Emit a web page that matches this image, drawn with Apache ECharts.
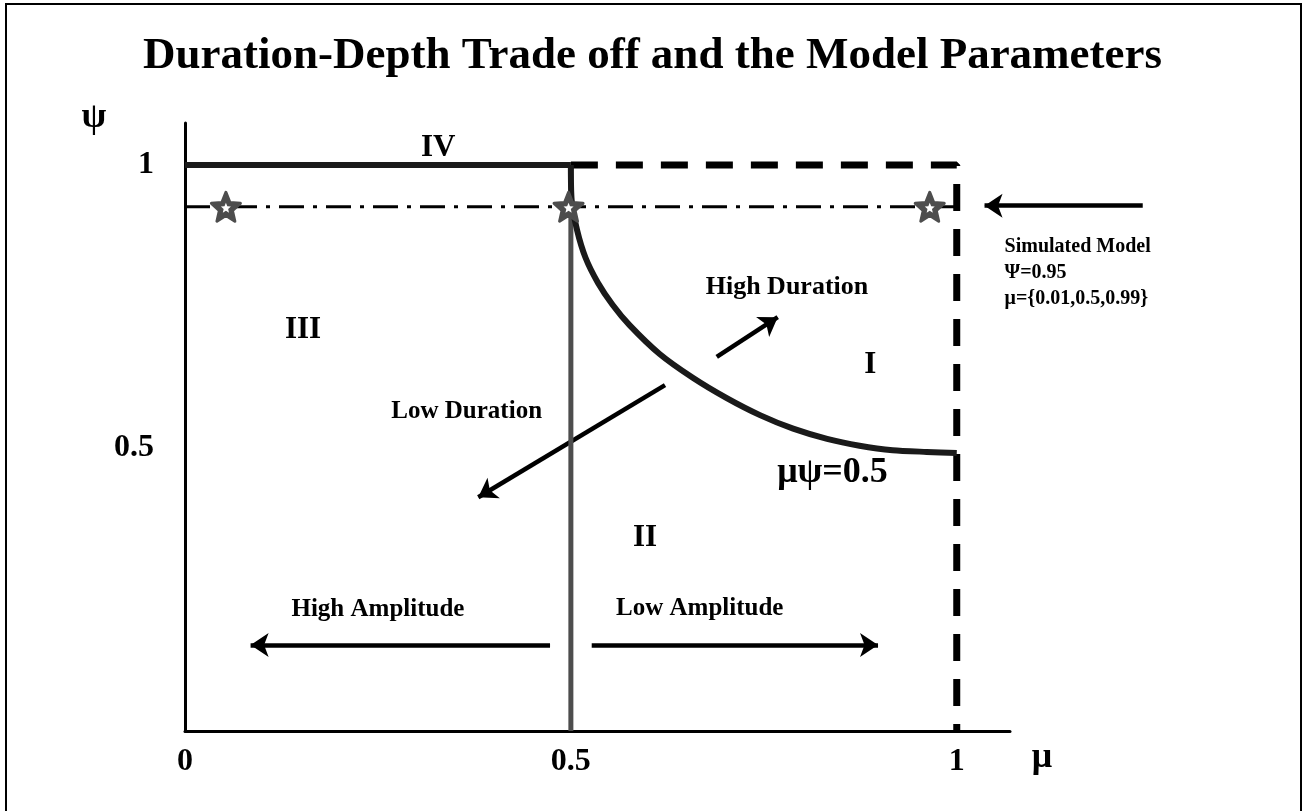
<!DOCTYPE html>
<html>
<head>
<meta charset="utf-8">
<title>Duration-Depth Trade off</title>
<script src="https://cdn.jsdelivr.net/npm/echarts@6/dist/echarts.min.js"></script>
<style>
  html, body { margin: 0; padding: 0; background: #fff; }
  #chart { width: 1305px; height: 811px; }
</style>
</head>
<body>
<div id="chart"></div>
<script>
// axis ticks
var tickValues = [0, 0.5, 1];

// region boundaries (mu, psi)
var solidTop = [[0, 1], [0.5, 1]];
var dashedFrame = [[0.5, 1], [1, 1], [1, 0]];
var midLine = [[0.5, 1], [0.5, 0]];
var simLine = [[0, 0.926], [1, 0.926]];

// mu*psi = 0.5 boundary
var curveMu = [0.5, 0.501, 0.508, 0.519, 0.535, 0.554, 0.576, 0.615, 0.658, 0.702, 0.745, 0.788, 0.832, 0.874, 0.917, 0.961, 1.0];
var curvePsi = [1.0, 0.938, 0.885, 0.836, 0.792, 0.753, 0.717, 0.666, 0.624, 0.588, 0.558, 0.534, 0.516, 0.504, 0.496, 0.493, 0.491];

// simulated points (stars)
var starMu = [0.053, 0.497, 0.965];
var starPsi = [0.926, 0.926, 0.926];

// arrows [from, to]
var arrows = [
  [[0.473, 0.152], [0.085, 0.152]],
  [[0.527, 0.152], [0.898, 0.152]],
  [[0.622, 0.611], [0.380, 0.413]],
  [[0.689, 0.661], [0.768, 0.731]],
  [[1.241, 0.928], [1.036, 0.928]]
];

// annotations
var noteText = ["IV", "III", "II", "I", "High Duration", "Low Duration", "\u03bc\u03c8=0.5", "High Amplitude", "Low Amplitude"];
var noteMu = [0.328, 0.153, 0.596, 0.888, 0.780, 0.365, 0.839, 0.250, 0.667];
var notePsi = [1.03, 0.708, 0.341, 0.646, 0.783, 0.564, 0.456, 0.214, 0.217];
var noteSize = [31, 31, 31, 31, 26, 25, 36, 25, 25];

var simText = "Simulated Model\n\u03a8=0.95\n\u03bc={0.01,0.5,0.99}";

var serif = "'Liberation Serif', 'Times New Roman', serif";

var curve = curveMu.map(function(m, i) { return [m, curvePsi[i]]; });
var stars = starMu.map(function(m, i) { return [m, starPsi[i]]; });
var notes = noteText.map(function(t, i) {
  return {
    value: [noteMu[i], notePsi[i]],
    name: t,
    label: { fontSize: noteSize[i] }
  };
});
notes.push({
  value: [1.062, 0.809],
  name: simText,
  label: { fontSize: 20, position: "right", distance: 0, align: "left", lineHeight: 26 }
});

var starPath = "path://M0,-100 L26.5,-36.4 L95.1,-30.9 L42.8,13.9 L58.8,80.9 L0,45 L-58.8,80.9 L-42.8,13.9 L-95.1,-30.9 L-26.5,-36.4 Z";

var chart = echarts.init(document.getElementById("chart"));
chart.setOption({
  animation: false,
  backgroundColor: "#fff",
  title: {
    text: "Duration-Depth Trade off and the Model Parameters",
    left: "center",
    top: 29,
    textStyle: { fontFamily: serif, fontWeight: "bold", fontSize: 45, color: "#000" }
  },
  grid: { left: 185, right: 295, top: 123, bottom: 80 },
  xAxis: {
    type: "value",
    min: 0,
    max: 1.069,
    interval: 0.5,
    splitLine: { show: false },
    axisTick: { show: false },
    axisLine: { lineStyle: { color: "#000", width: 3 } },
    axisLabel: {
      showMaxLabel: false,
      margin: 15,
      fontFamily: serif,
      fontWeight: "bold",
      fontSize: 32,
      color: "#000",
      formatter: function(v) { return tickValues.indexOf(v) >= 0 ? String(v) : ""; }
    }
  },
  yAxis: {
    type: "value",
    min: 0,
    max: 1.074,
    interval: 0.5,
    splitLine: { show: false },
    axisTick: { show: false },
    axisLine: { lineStyle: { color: "#000", width: 3 } },
    axisLabel: {
      showMinLabel: false,
      showMaxLabel: false,
      margin: 31,
      fontFamily: serif,
      fontWeight: "bold",
      fontSize: 32,
      color: "#000",
      formatter: function(v) { return tickValues.indexOf(v) >= 0 ? String(v) : ""; }
    }
  },
  graphic: [
    {
      type: "rect",
      shape: { x: 6, y: 4, width: 1295, height: 820 },
      style: { fill: "none", stroke: "#000", lineWidth: 2 }
    },
    {
      type: "text",
      x: 94, y: 118,
      style: { text: "\u03c8", font: "bold 36px " + serif, fill: "#000", align: "center", verticalAlign: "middle" }
    },
    {
      type: "text",
      x: 1042, y: 758,
      style: { text: "\u03bc", font: "bold 36px " + serif, fill: "#000", align: "center", verticalAlign: "middle" }
    }
  ],
  series: [
    {
      type: "line",
      data: midLine,
      showSymbol: false,
      lineStyle: { color: "#4d4d4d", width: 5 }
    },
    {
      type: "line",
      data: simLine,
      showSymbol: false,
      lineStyle: { color: "#000", width: 3, type: [25, 9, 4, 9] }
    },
    {
      type: "line",
      data: solidTop,
      showSymbol: false,
      lineStyle: { color: "#1a1a1a", width: 6 }
    },
    {
      type: "line",
      data: dashedFrame,
      showSymbol: false,
      lineStyle: { color: "#000", width: 7, type: [27, 18], cap: "butt" }
    },
    {
      type: "line",
      data: curve,
      smooth: 0.25,
      showSymbol: false,
      lineStyle: { color: "#1a1a1a", width: 6, join: "round" }
    },
    {
      type: "lines",
      coordinateSystem: "cartesian2d",
      clip: false,
      symbol: ["none", "arrow"],
      symbolSize: 18,
      lineStyle: { color: "#000", width: 4.5, opacity: 1 },
      data: arrows.map(function(a) { return { coords: a }; })
    },
    {
      type: "scatter",
      data: stars,
      symbol: starPath,
      symbolSize: 29,
      itemStyle: { color: "#4d4d4d", borderColor: "#4d4d4d", borderWidth: 3, borderJoin: "round", opacity: 1 },
      z: 5
    },
    {
      type: "scatter",
      data: stars,
      symbol: starPath,
      symbolSize: 10,
      symbolOffset: [0, 1],
      itemStyle: { color: "#fff", opacity: 1 },
      z: 6
    },
    {
      type: "scatter",
      data: notes,
      symbolSize: 0,
      clip: false,
      itemStyle: { opacity: 1 },
      label: {
        show: true,
        position: "inside",
        formatter: "{b}",
        fontFamily: serif,
        fontWeight: "bold",
        color: "#000"
      },
      z: 7
    }
  ]
});
</script>
</body>
</html>
